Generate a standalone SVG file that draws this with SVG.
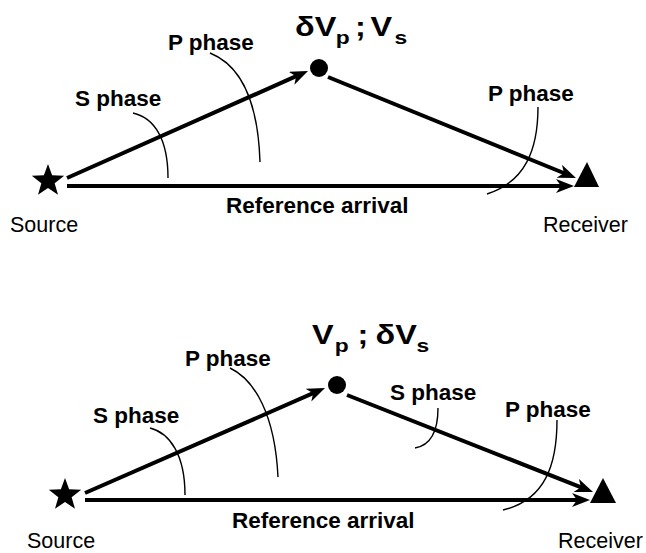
<svg xmlns="http://www.w3.org/2000/svg" width="646" height="553" viewBox="0 0 646 553">
<style>
.ray{stroke:#000;stroke-width:4;fill:none}
.lead{stroke:#000;stroke-width:1.4;fill:none}
.b{font-family:"Liberation Sans",Arial,sans-serif;font-weight:bold;font-size:22.5px;fill:#000}
.r{font-family:"Liberation Sans",Arial,sans-serif;font-size:21.5px;fill:#000}
.h{font-family:"Liberation Sans",Arial,sans-serif;font-weight:bold;font-size:27px;fill:#000}
.sub{font-size:19px}
</style>
<defs>
<marker id="ah" viewBox="0 0 18 14" refX="10" refY="7" markerWidth="18" markerHeight="14" markerUnits="userSpaceOnUse" orient="auto">
<path d="M0,0 L18,7 L0,14 L5,7 z" fill="#000"/>
</marker>
<polygon id="star" points="0,-17 4.11,-5.66 16.17,-5.25 6.66,2.16 9.99,13.75 0,7 -9.99,13.75 -6.66,2.16 -16.17,-5.25 -4.11,-5.66" fill="#000"/>
</defs>
<rect width="646" height="553" fill="#fff"/>

<g id="connectors">
<line class="ray" x1="67" y1="186" x2="566" y2="186" marker-end="url(#ah)"/>
<line class="ray" x1="67" y1="178" x2="300.7" y2="74.2" marker-end="url(#ah)"/>
<line class="ray" x1="328" y1="77" x2="568.6" y2="175" marker-end="url(#ah)"/>
<path class="lead" d="M133,113 C155,118 168,140 168,178"/>
<path class="lead" d="M210,53 C240,65 258,100 260,162"/>
<path class="lead" d="M538,107 C538,150 525,182 487,194"/>

<line class="ray" x1="85" y1="500" x2="582" y2="500" marker-end="url(#ah)"/>
<line class="ray" x1="85" y1="493" x2="317.7" y2="391.2" marker-end="url(#ah)"/>
<line class="ray" x1="347" y1="395" x2="585.6" y2="489.1" marker-end="url(#ah)"/>
<path class="lead" d="M150,428 C170,433 185,455 185,495"/>
<path class="lead" d="M230,368 C255,380 275,415 278,477"/>
<path class="lead" d="M438,408 C438,430 432,445 415,448"/>
<path class="lead" d="M557,420 C557,465 545,500 503,510"/>
</g>

<g id="source1"><use href="#star" x="48" y="181"/><text class="r" x="10" y="232">Source</text></g>
<g id="receiver1"><polygon points="587,162 574,187 599,187" fill="#000"/><text class="r" x="543" y="232">Receiver</text></g>
<g id="scatterer1"><circle cx="319" cy="68" r="9" fill="#000"/>
<text class="h" transform="translate(295,36) scale(1.2,1)"><tspan x="0" y="0">δV</tspan><tspan class="sub" x="34" y="8">p</tspan><tspan x="50" y="0">;</tspan><tspan x="63" y="0">V</tspan><tspan class="sub" x="83" y="8">s</tspan></text></g>
<g id="labels1">
<text class="b" x="168" y="50">P phase</text>
<text class="b" x="75" y="106">S phase</text>
<text class="b" x="488" y="101">P phase</text>
<text class="b" x="226" y="213">Reference arrival</text>
</g>

<g id="source2"><use href="#star" x="65" y="495"/><text class="r" x="27" y="548">Source</text></g>
<g id="receiver2"><polygon points="603,478 590,503 616,503" fill="#000"/><text class="r" x="558" y="548">Receiver</text></g>
<g id="scatterer2"><circle cx="337" cy="385" r="9" fill="#000"/>
<text class="h" transform="translate(312,344) scale(1.2,1)"><tspan x="0" y="0">V</tspan><tspan class="sub" x="19" y="8">p</tspan><tspan x="38" y="0">;</tspan><tspan x="53" y="0">δV</tspan><tspan class="sub" x="87" y="8">s</tspan></text></g>
<g id="labels2">
<text class="b" x="185" y="366">P phase</text>
<text class="b" x="93" y="423">S phase</text>
<text class="b" x="390" y="400">S phase</text>
<text class="b" x="505" y="417">P phase</text>
<text class="b" x="232" y="528">Reference arrival</text>
</g>
</svg>
